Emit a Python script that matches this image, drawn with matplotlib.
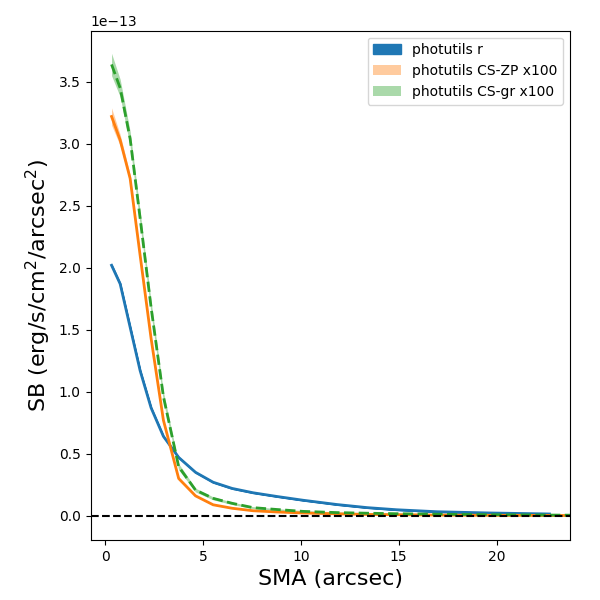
import numpy as np
import matplotlib
matplotlib.use('Agg')
import matplotlib.pyplot as plt

# semi-major axis samples (arcsec)
sma = np.array([0.33, 0.77, 1.28, 1.79, 2.35, 2.98, 3.76, 4.62, 5.52, 6.49,
                7.56, 8.78, 10.1, 11.85, 13.4, 14.9, 16.96, 19.66, 22.7])
sma_cs = np.append(sma, 25.5)

# surface brightness, units of 1e-13 erg/s/cm^2/arcsec^2
sb_r = np.array([2.02, 1.87, 1.52, 1.17, 0.87, 0.64, 0.47, 0.35, 0.27, 0.22,
                 0.185, 0.155, 0.125, 0.09, 0.065, 0.048, 0.032, 0.022, 0.014])
sb_r_err = np.array([0.006, 0.005, 0.004, 0.004, 0.003, 0.003, 0.002, 0.002, 0.002, 0.002,
                     0.001, 0.001, 0.001, 0.001, 0.001, 0.001, 0.001, 0.001, 0.001])

sb_zp = np.array([3.22, 3.03, 2.72, 2.10, 1.43, 0.77, 0.30, 0.16, 0.088, 0.06,
                  0.04, 0.03, 0.022, 0.015, 0.01, 0.008, 0.005, 0.003, 0.002, 0.001])
sb_zp_err = np.array([0.07, 0.045, 0.03, 0.02, 0.015, 0.01, 0.006, 0.004, 0.003, 0.003,
                      0.002, 0.002, 0.002, 0.002, 0.002, 0.002, 0.002, 0.002, 0.002, 0.002])

sb_gr = np.array([3.64, 3.45, 3.04, 2.40, 1.68, 0.96, 0.395, 0.207, 0.14, 0.10,
                  0.065, 0.05, 0.035, 0.025, 0.02, 0.016, 0.012, 0.008, 0.005, 0.003])
sb_gr_err = np.array([0.09, 0.07, 0.06, 0.055, 0.05, 0.04, 0.025, 0.015, 0.012, 0.01,
                      0.008, 0.007, 0.006, 0.006, 0.005, 0.005, 0.005, 0.005, 0.005, 0.005])

scale = 1e-13

fig, ax = plt.subplots(figsize=(6, 6), dpi=100)
fig.subplots_adjust(left=0.151, right=0.95, top=0.949, bottom=0.1)

ax.fill_between(sma, (sb_r - sb_r_err) * scale, (sb_r + sb_r_err) * scale,
                color='C0', label='photutils r')
ax.plot(sma, sb_r * scale, color='C0', lw=2)

ax.fill_between(sma_cs, (sb_zp - sb_zp_err) * scale, (sb_zp + sb_zp_err) * scale,
                color='C1', alpha=0.4, lw=0, label='photutils CS-ZP x100')
ax.plot(sma_cs, sb_zp * scale, color='C1', lw=2)

ax.fill_between(sma_cs, (sb_gr - sb_gr_err) * scale, (sb_gr + sb_gr_err) * scale,
                color='C2', alpha=0.4, lw=0, label='photutils CS-gr x100')
ax.plot(sma_cs, sb_gr * scale, color='C2', lw=2, ls='--')

ax.axhline(0, color='k', ls='--', lw=1.5)

ax.set_xlim(-0.74, 23.75)
ax.set_ylim(-0.196e-13, 3.913e-13)
ax.set_xlabel('SMA (arcsec)', fontsize=16)
ax.set_ylabel('SB (erg/s/cm$^2$/arcsec$^2$)', fontsize=16)
ax.legend(loc='upper right')

fig.savefig('out.png')
